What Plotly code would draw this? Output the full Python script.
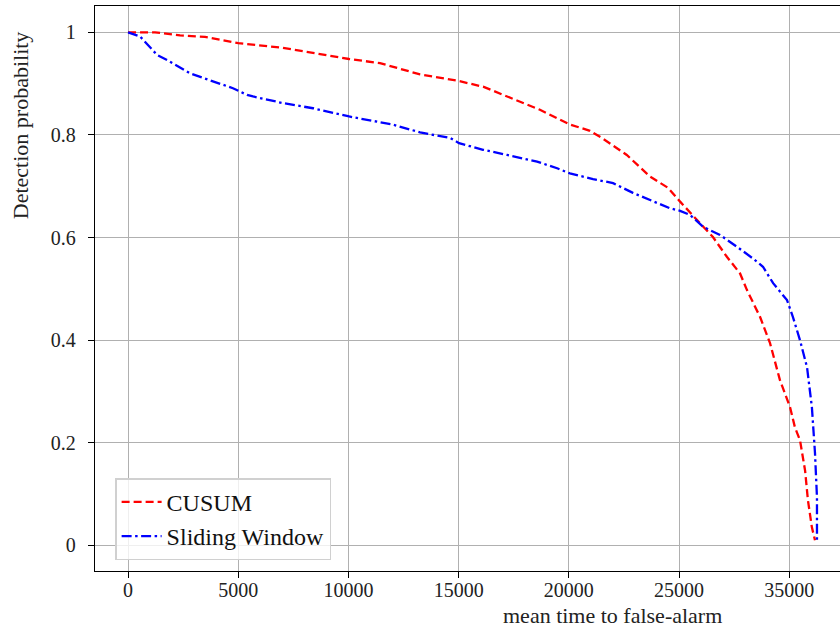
import plotly.graph_objects as go

# Data (axis units as drawn)
cusum_x = [0, 1225, 2360, 3490, 5000, 6990, 10030, 11430, 13250, 15020, 16110, 17330, 18690,
           20010, 20960, 21500, 22630, 23680, 24500, 25050, 25500, 25950, 26540, 27180, 27770,
           28080, 28680, 29130, 29580, 30040, 30260, 30490, 30720, 30850, 31030, 31170]
cusum_y = [1.0, 1.0, 0.994, 0.991, 0.979, 0.970, 0.948, 0.940, 0.918, 0.905, 0.894, 0.872, 0.849,
           0.821, 0.808, 0.794, 0.761, 0.719, 0.697, 0.670, 0.648, 0.628, 0.601, 0.562, 0.530,
           0.498, 0.445, 0.394, 0.322, 0.269, 0.230, 0.205, 0.146, 0.088, 0.035, 0.010]

sw_x = [0, 545, 1315, 1770, 2810, 3860, 4760, 5400, 5670, 7030, 8390, 10030, 10840, 12020,
        13250, 14610, 15020, 16110, 17200, 18560, 19470, 20050, 21100, 22010, 22910, 23820,
        24590, 25050, 25500, 26090, 26860, 27630, 28360, 28810, 29270, 29900, 30170, 30490,
        30810, 31030, 31170, 31260, 31260]
sw_y = [1.0, 0.992, 0.956, 0.946, 0.920, 0.904, 0.891, 0.878, 0.875, 0.862, 0.852, 0.836, 0.829,
        0.820, 0.805, 0.794, 0.784, 0.771, 0.761, 0.748, 0.735, 0.725, 0.714, 0.706, 0.687,
        0.670, 0.657, 0.652, 0.644, 0.621, 0.605, 0.582, 0.559, 0.543, 0.511, 0.478, 0.445,
        0.400, 0.347, 0.269, 0.180, 0.094, 0.004]

x_tickvals = [0, 5000, 10000, 15000, 20000, 25000, 30000]
x_ticktext = ["0", "5000", "10000", "15000", "20000", "25000", "35000"]
y_tickvals = [0, 0.2, 0.4, 0.6, 0.8, 1.0]
y_ticktext = ["0", "0.2", "0.4", "0.6", "0.8", "1"]

FONT = "Liberation Serif"

fig = go.Figure()
fig.add_trace(go.Scatter(x=cusum_x, y=cusum_y, mode="lines", name="CUSUM",
                         line=dict(color="#ff0000", width=2.3, dash="8px,4px")))
fig.add_trace(go.Scatter(x=sw_x, y=sw_y, mode="lines", name="Sliding Window",
                         line=dict(color="#0000ff", width=2.3, dash="10px,3.5px,2.5px,3.5px")))

fig.update_layout(
    width=840, height=628,
    margin=dict(l=95, r=0, t=6, b=57),
    paper_bgcolor="white", plot_bgcolor="white",
    font=dict(family=FONT, size=20, color="#222222"),
    showlegend=True,
    legend=dict(x=0.027, y=0.019, xanchor="left", yanchor="bottom",
                bgcolor="rgba(255,255,255,0.8)", bordercolor="#d0d0d0", borderwidth=1.5,
                font=dict(family=FONT, size=24, color="#111111"),
                itemwidth=40, tracegroupgap=0),
    xaxis=dict(range=[-1500, 32305], tickvals=x_tickvals, ticktext=x_ticktext,
               showgrid=True, gridcolor="#b0b0b0", gridwidth=1.2,
               showline=True, linecolor="black", linewidth=1.3, mirror=True,
               ticks="outside", ticklen=6, tickcolor="black", zeroline=False,
               ticklabelstandoff=-5,
               tickfont=dict(family=FONT, size=20)),
    yaxis=dict(range=[-0.05, 1.0513], tickvals=y_tickvals, ticktext=y_ticktext,
               showgrid=True, gridcolor="#b0b0b0", gridwidth=1.2,
               showline=True, linecolor="black", linewidth=1.3,
               ticks="outside", ticklen=6, tickcolor="black", zeroline=False,
               ticklabelstandoff=8,
               tickfont=dict(family=FONT, size=20)),
    annotations=[
        dict(text="mean time to false-alarm", xref="paper", yref="paper",
             x=0.695, y=-0.078, xanchor="center", yanchor="middle", showarrow=False,
             font=dict(family=FONT, size=22)),
        dict(text="Detection probability", xref="paper", yref="paper",
             x=-0.1007, y=0.789, xanchor="center", yanchor="middle", showarrow=False,
             textangle=-90, font=dict(family=FONT, size=22)),
    ],
)

fig.write_html("out.html", config={"displayModeBar": False},
               post_script="document.body.style.margin='0px';document.body.style.overflow='hidden';")
